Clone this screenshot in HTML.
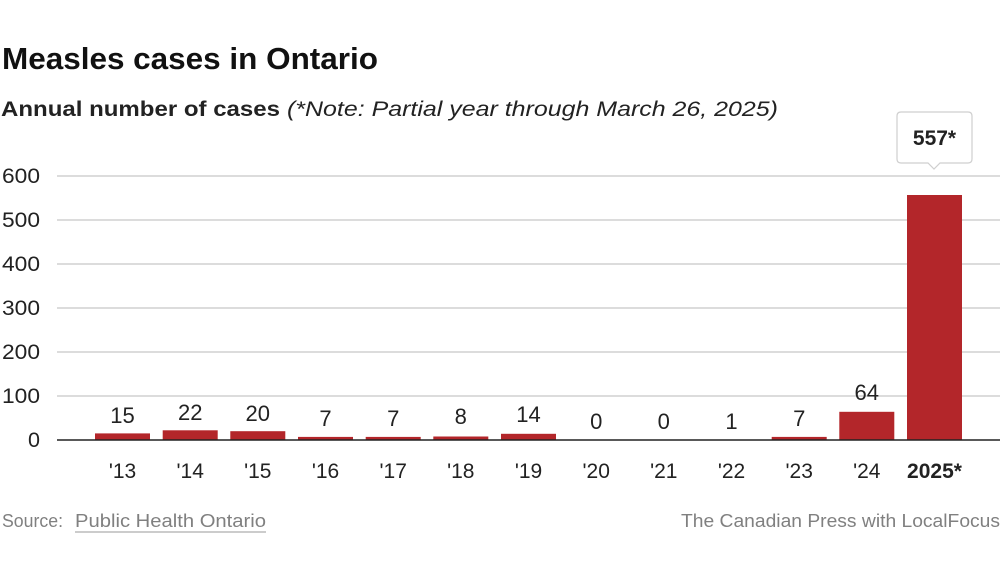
<!DOCTYPE html>
<html><head><meta charset="utf-8"><style>
html,body{margin:0;padding:0;background:#fff;width:1000px;height:562px;overflow:hidden}
svg{display:block;font-family:"Liberation Sans",sans-serif}
</style></head><body>
<svg width="1000" height="562" viewBox="0 0 1000 562" xmlns="http://www.w3.org/2000/svg">
<text x="2" y="69" font-size="31" font-weight="bold" fill="#111" textLength="376" lengthAdjust="spacingAndGlyphs">Measles cases in Ontario</text>
<text x="1" y="116" font-size="21" font-weight="bold" fill="#222" textLength="279" lengthAdjust="spacingAndGlyphs">Annual number of cases</text>
<text x="287" y="116" font-size="21" font-style="italic" fill="#222" textLength="491" lengthAdjust="spacingAndGlyphs">(*Note: Partial year through March 26, 2025)</text>
<g stroke="#d0d0d0" stroke-width="1.5">
<line x1="57" x2="1000" y1="176" y2="176"/>
<line x1="57" x2="1000" y1="220" y2="220"/>
<line x1="57" x2="1000" y1="264" y2="264"/>
<line x1="57" x2="1000" y1="308" y2="308"/>
<line x1="57" x2="1000" y1="352" y2="352"/>
<line x1="57" x2="1000" y1="396" y2="396"/>
</g>
<g font-size="21" fill="#222">
<text x="2" y="183" textLength="38" lengthAdjust="spacingAndGlyphs">600</text>
<text x="2" y="227" textLength="38" lengthAdjust="spacingAndGlyphs">500</text>
<text x="2" y="271" textLength="38" lengthAdjust="spacingAndGlyphs">400</text>
<text x="2" y="315" textLength="38" lengthAdjust="spacingAndGlyphs">300</text>
<text x="2" y="359" textLength="38" lengthAdjust="spacingAndGlyphs">200</text>
<text x="2" y="403" textLength="38" lengthAdjust="spacingAndGlyphs">100</text>
<text x="28" y="447" textLength="12" lengthAdjust="spacingAndGlyphs">0</text>
</g>
<g fill="#b3262a">
<rect x="95" y="433.4" width="55" height="6.6"/>
<rect x="162.7" y="430.3" width="55" height="9.7"/>
<rect x="230.3" y="431.2" width="55" height="8.8"/>
<rect x="298" y="436.9" width="55" height="3.1"/>
<rect x="365.7" y="436.9" width="55" height="3.1"/>
<rect x="433.3" y="436.5" width="55" height="3.5"/>
<rect x="501" y="433.8" width="55" height="6.2"/>
<rect x="771.7" y="436.9" width="55" height="3.1"/>
<rect x="839.3" y="411.8" width="55" height="28.2"/>
<rect x="907" y="195" width="55" height="245"/>
</g>
<line x1="57" x2="1000" y1="440" y2="440" stroke="#222" stroke-width="1.5"/>
<g font-size="22" fill="#222" text-anchor="middle">
<text x="122.5" y="423">15</text>
<text x="190.2" y="420">22</text>
<text x="257.8" y="421">20</text>
<text x="325.5" y="426">7</text>
<text x="393.2" y="426">7</text>
<text x="460.8" y="424">8</text>
<text x="528.5" y="422">14</text>
<text x="596.2" y="429">0</text>
<text x="663.8" y="429">0</text>
<text x="731.5" y="429">1</text>
<text x="799.2" y="426">7</text>
<text x="866.8" y="400">64</text>
</g>
<g font-size="21" fill="#222" text-anchor="middle">
<text x="122.5" y="478">'13</text>
<text x="190.2" y="478">'14</text>
<text x="257.8" y="478">'15</text>
<text x="325.5" y="478">'16</text>
<text x="393.2" y="478">'17</text>
<text x="460.8" y="478">'18</text>
<text x="528.5" y="478">'19</text>
<text x="596.2" y="478">'20</text>
<text x="663.8" y="478">'21</text>
<text x="731.5" y="478">'22</text>
<text x="799.2" y="478">'23</text>
<text x="866.8" y="478">'24</text>
<text x="934.5" y="478" font-weight="bold">2025*</text>
</g>
<path d="M901,112 H968 Q972,112 972,116 V159 Q972,163 968,163 H940 L934,169 L928,163 H901 Q897,163 897,159 V116 Q897,112 901,112 Z" fill="#fff" stroke="#cfcfcf" stroke-width="1.2"/>
<text x="934.5" y="145" font-size="21" font-weight="bold" fill="#222" text-anchor="middle">557*</text>
<text x="2" y="527" font-size="18" fill="#808080" textLength="61" lengthAdjust="spacingAndGlyphs">Source:</text>
<text x="75" y="527" font-size="18" fill="#808080" textLength="191" lengthAdjust="spacingAndGlyphs">Public Health Ontario</text>
<line x1="75" x2="266" y1="532" y2="532" stroke="#999" stroke-width="1"/>
<text x="681" y="527" font-size="18" fill="#808080" textLength="319" lengthAdjust="spacingAndGlyphs">The Canadian Press with LocalFocus</text>
</svg>
</body></html>
